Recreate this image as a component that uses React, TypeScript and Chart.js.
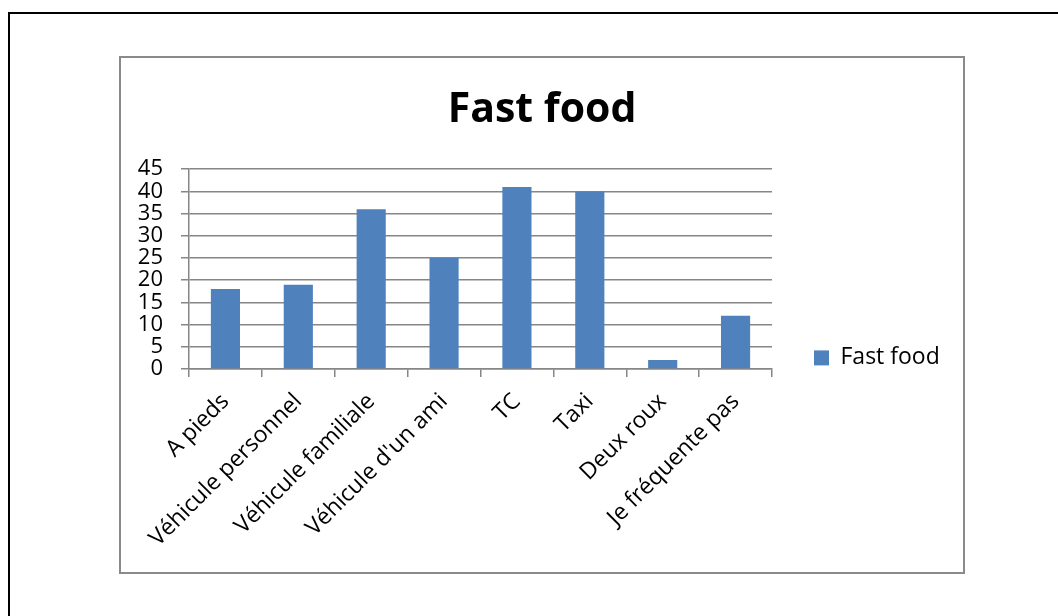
import React, { useEffect, useRef } from "react";
import { Chart, registerables } from "chart.js";

Chart.register(...registerables);

// Travel mode used to reach the fast food, number of answers per mode
const categories = [
  "A pieds",
  "Véhicule personnel",
  "Véhicule familiale",
  "Véhicule d'un ami",
  "TC",
  "Taxi",
  "Deux roux",
  "Je fréquente pas",
];
const fastFood = [18, 19, 36, 25, 41, 40, 2, 12];
const seriesLabel = "Fast food";
const chartTitle = "Fast food";
const yMin = 0;
const yMax = 45;
const yStep = 5;

const BAR_BLUE = "#4F81BD";
const AXIS_GREY = "#868686";
const FONT = "'Open Sans', 'Noto Sans', sans-serif";

// Centre the title over the whole canvas rather than over the padded layout area
const centreTitle = {
  id: "centreTitle",
  afterLayout(chart: any) {
    const t = chart.titleBlock;
    if (t) {
      t.left = 0;
      t.right = chart.width;
      t.width = chart.width;
    }
  },
};

export default function App() {
  const canvasRef = useRef<HTMLCanvasElement>(null);

  useEffect(() => {
    const canvas = canvasRef.current;
    if (!canvas) return;
    const chart = new Chart(canvas, {
      type: "bar",
      data: {
        labels: categories,
        datasets: [
          {
            label: seriesLabel,
            data: fastFood,
            backgroundColor: BAR_BLUE,
            borderWidth: 0,
            categoryPercentage: 1,
            barPercentage: 0.4,
          },
        ],
      },
      plugins: [centreTitle],
      options: {
        responsive: false,
        maintainAspectRatio: false,
        animation: false,
        layout: { padding: { left: 0, right: 21, top: 0, bottom: 0 } },
        plugins: {
          title: {
            display: true,
            text: chartTitle,
            color: "#000",
            font: { family: FONT, size: 41, weight: "bold", lineHeight: 1.2 },
            padding: { top: 28, bottom: 34 },
          },
          legend: {
            display: true,
            position: "right",
            align: "start",
            maxWidth: 170,
            // empty legend title, used only to push the entry down beside the plot
            title: {
              display: true,
              text: "",
              font: { family: FONT, size: 12 },
              padding: { top: 232, bottom: 0 },
            },
            labels: {
              color: "#000",
              font: { family: FONT, size: 23 },
              boxWidth: 15,
              boxHeight: 15,
              padding: 42,
            },
          },
          tooltip: { enabled: false },
        },
        scales: {
          x: {
            grid: {
              display: true,
              drawOnChartArea: false,
              drawTicks: true,
              tickLength: 8,
              color: AXIS_GREY,
              lineWidth: 1.5,
              offset: true,
            },
            border: { display: true, color: AXIS_GREY, width: 1.5 },
            ticks: {
              color: "#000",
              font: { family: FONT, size: 23 },
              minRotation: 45,
              maxRotation: 45,
              autoSkip: false,
              padding: 11,
            },
            afterFit: (scale: any) => {
              scale.height = 203;
            },
          },
          y: {
            min: yMin,
            max: yMax,
            ticks: {
              stepSize: yStep,
              autoSkip: false,
              color: "#000",
              font: { family: FONT, size: 22 },
              padding: 18,
            },
            grid: {
              color: AXIS_GREY,
              lineWidth: 1.5,
              tickLength: 8,
            },
            border: { display: true, color: AXIS_GREY, width: 1.5 },
            afterFit: (scale: any) => {
              scale.width = 68;
            },
          },
        },
      },
    });
    return () => chart.destroy();
  }, []);

  return (
    <div
      style={{
        position: "fixed",
        left: 0,
        top: 0,
        width: 1058,
        height: 616,
        overflow: "hidden",
        background: "#fff",
      }}
    >
      <div
        style={{
          position: "absolute",
          left: 8,
          top: 12,
          width: 1200,
          height: 800,
          border: "2px solid #000",
          boxSizing: "border-box",
        }}
      />
      <div
        style={{
          position: "absolute",
          left: 119,
          top: 56,
          width: 846,
          height: 518,
          border: "2px solid #8a8a8a",
          boxSizing: "border-box",
          background: "#fff",
        }}
      >
        <canvas ref={canvasRef} width={842} height={514} style={{ display: "block" }} />
      </div>
    </div>
  );
}
